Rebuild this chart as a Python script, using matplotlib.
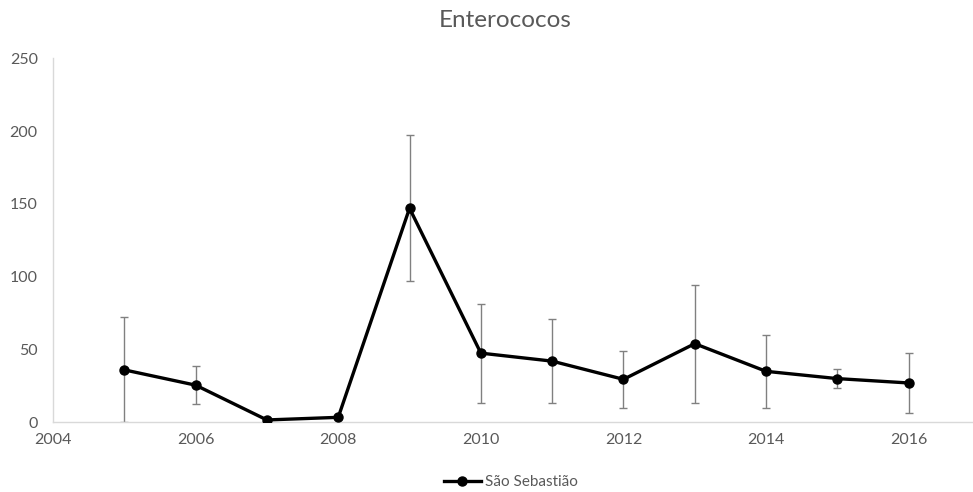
import numpy as np
import matplotlib.pyplot as plt

# Enterococos por ano, média anual com desvio padrão
years = [2005, 2006, 2007, 2008, 2009, 2010, 2011, 2012, 2013, 2014, 2015, 2016]
means = [36, 25.5, 1.6, 3.4, 147, 47.5, 42, 29.5, 54, 35, 30, 27]
errors = [36, 13, 0, 0, 50, 34, 29, 19.5, 40.5, 25, 6.3, 20.5]
series_label = 'São Sebastião'
title = 'Enterococos'

text_color = '#595959'
axis_color = '#d9d9d9'

plt.rcParams['font.family'] = ['Lato', 'DejaVu Sans']

fig = plt.figure(figsize=(9.73, 4.92), dpi=100)
ax = fig.add_axes([53 / 973, 0.1417, 927 / 973, 0.7398])

# error bars in gray, drawn under the series line
ax.errorbar(years, means, yerr=errors, fmt='none', ecolor='#808080',
            elinewidth=1, capsize=3, capthick=1, zorder=2)
ax.plot(years, means, color='black', linewidth=2.4, marker='o',
        markersize=6.5, label=series_label, zorder=3)

ax.set_xlim(2004, 2017)
ax.set_ylim(0, 250)
ax.set_xticks(range(2004, 2017, 2))
ax.set_yticks(range(0, 251, 50))
ax.tick_params(length=0, colors=text_color, labelsize=11.5)
ax.tick_params(axis='x', pad=8)
ax.tick_params(axis='y', pad=11)

for side in ['top', 'right']:
    ax.spines[side].set_visible(False)
for side in ['left', 'bottom']:
    ax.spines[side].set_color(axis_color)
    ax.spines[side].set_linewidth(1)

fig.text(0.519, 0.958, title, ha='center', va='center', fontsize=17.5,
         color=text_color)

fig.legend(loc='center', bbox_to_anchor=(0.525, 0.02), frameon=False,
           fontsize=11, handlelength=2.4, handletextpad=0.25,
           labelcolor=text_color)

fig.savefig('out.png', dpi=100)
